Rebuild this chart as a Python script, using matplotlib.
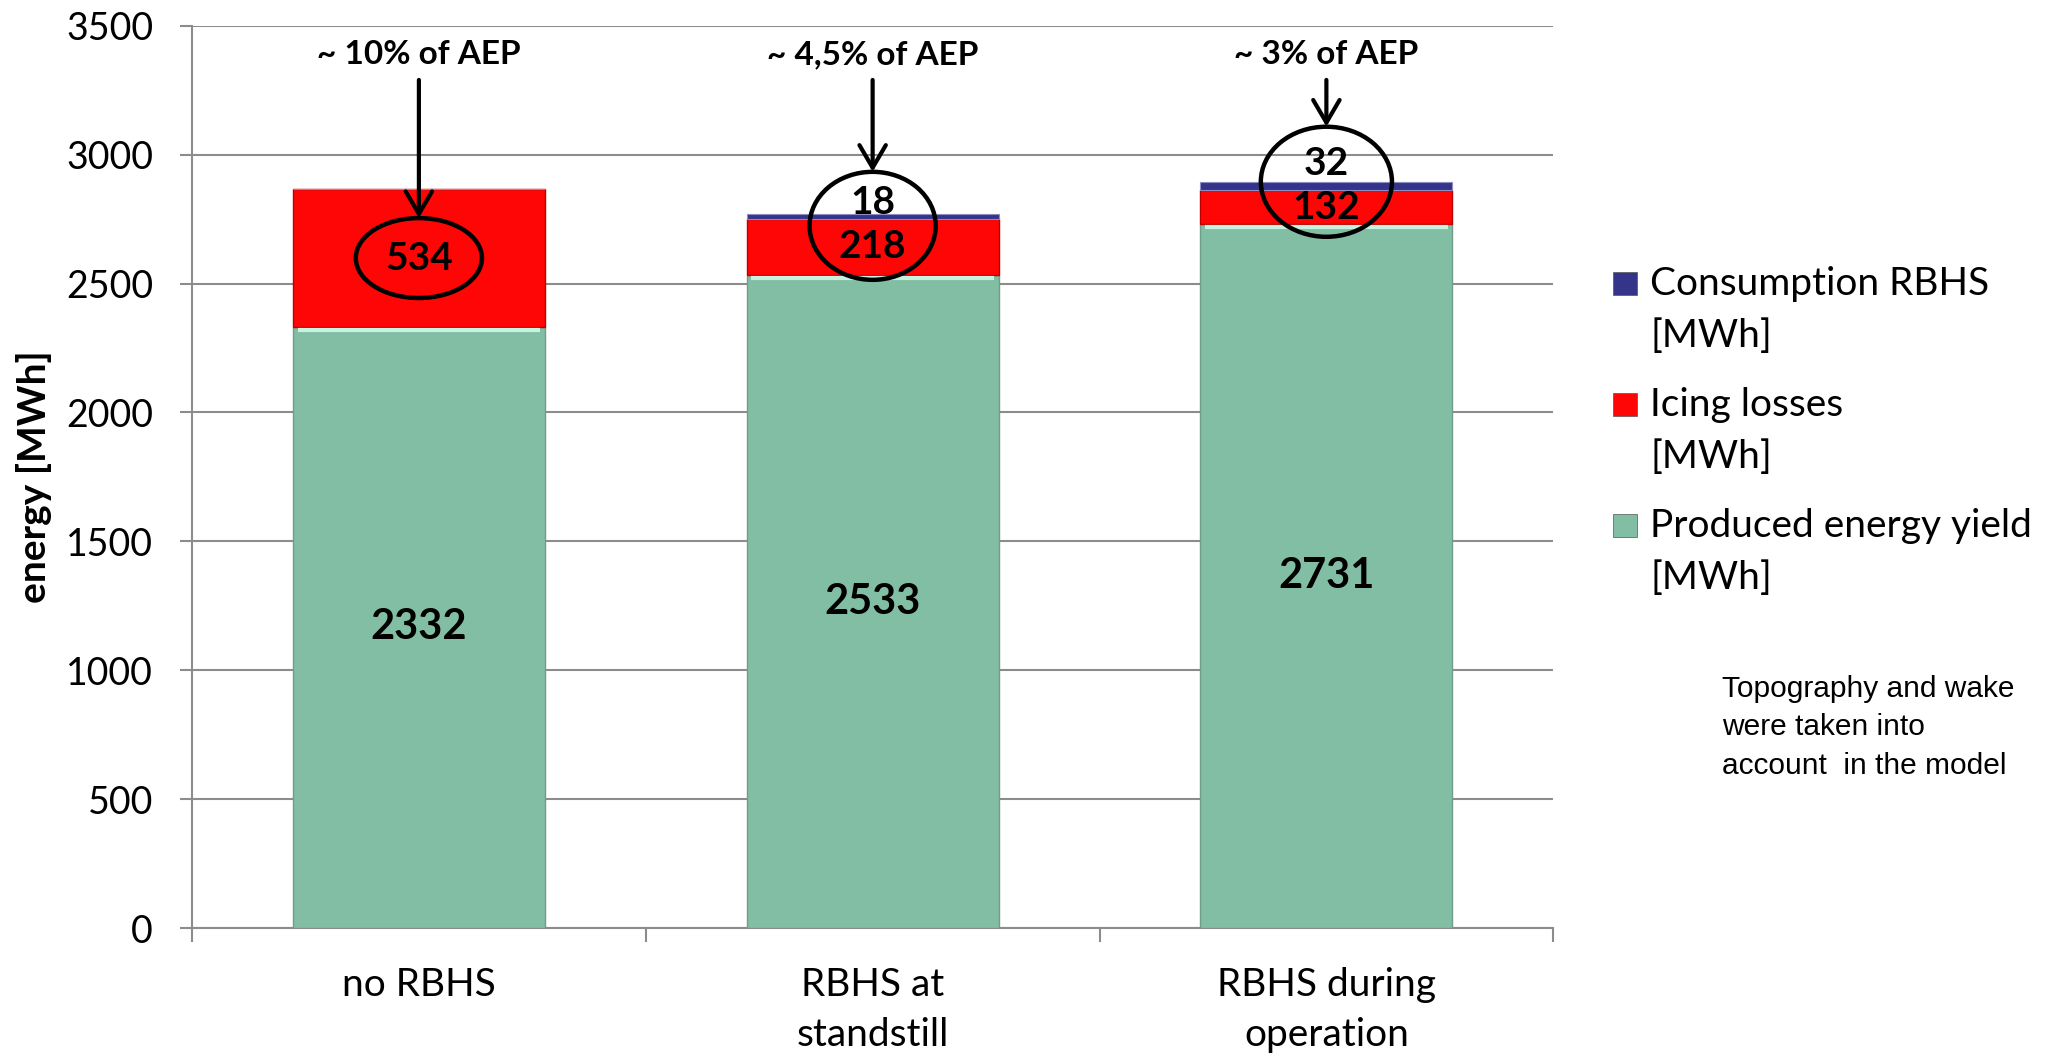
import matplotlib.pyplot as plt
import numpy as np
from matplotlib.patches import Ellipse, Rectangle

# scenario data, MWh
categories = ["no RBHS", "RBHS at\nstandstill", "RBHS during\noperation"]
produced = [2332, 2533, 2731]
icing = [534, 218, 132]
consumption = [0, 18, 32]
aep_share = ["~ 10% of AEP", "~ 4,5% of AEP", "~ 3% of AEP"]

series_names = ["Consumption RBHS\n[MWh]", "Icing losses\n[MWh]", "Produced energy yield\n[MWh]"]
GREEN = "#82BEA4"
RED = "#FE0606"
BLUE = "#34348A"
GRID = "#8C8C8C"

plt.rcParams["font.family"] = ["Lato", "DejaVu Sans"]

fig = plt.figure(figsize=(20.47, 10.57), dpi=100)
ax = fig.add_axes([0.0938, 0.122, 0.665, 0.8536])

x = np.arange(len(categories))
width = 0.555
produced = np.array(produced)
icing = np.array(icing)
consumption = np.array(consumption)
tops = produced + icing + consumption

ax.bar(x, produced, width, color=GREEN, edgecolor="#6E9E89", linewidth=1, zorder=3)
ax.bar(x, icing, width, bottom=produced, color=RED, edgecolor="#C00000", linewidth=1, zorder=3)
ax.bar(x, consumption, width, bottom=produced + icing, color=BLUE, edgecolor="#8C8CC0",
       linewidth=0.8, zorder=3)
# light bevel along the top of the green segments
ax.hlines(produced - 12, x - width / 2 + 0.01, x + width / 2 - 0.01, color="#C6F2DE",
          linewidth=3, zorder=4)

ax.set_xlim(-0.5, 2.5)
ax.set_ylim(0, 3500)
ax.set_yticks(np.arange(0, 3501, 500))
ax.yaxis.grid(True, color=GRID, linewidth=1.5, zorder=0)
ax.set_axisbelow(True)
for side in ("top", "right"):
    ax.spines[side].set_visible(False)
for side in ("left", "bottom"):
    ax.spines[side].set_color(GRID)
    ax.spines[side].set_linewidth(1.5)

ax.tick_params(axis="y", labelsize=27, length=9, width=1.5, color=GRID, pad=19)
ax.set_xticks(x)
ax.set_xticklabels(categories, fontsize=28, linespacing=1.47)
ax.set_xticks([-0.5, 0.5, 1.5, 2.5], minor=True)
ax.tick_params(axis="x", which="major", length=0, pad=28)
ax.tick_params(axis="x", which="minor", length=10, width=1.5, color=GRID)
ax.set_ylabel("energy [MWh]", fontsize=28, fontweight="bold", labelpad=10)

# segment values
label_lift = [0, 0, 5]
for xi, p, ic, c, top, lift in zip(x, produced, icing, consumption, tops, label_lift):
    ax.text(xi, p / 2, f"{p}", ha="center", va="center", fontsize=30, fontweight="bold", zorder=5)
    ax.text(xi, p + ic / 2, f"{ic}", ha="center", va="center", fontsize=28, fontweight="bold", zorder=5)
    if c:
        ax.annotate(f"{c}", xy=(xi, top), xytext=(0, lift), textcoords="offset points",
                    ha="center", va="baseline", fontsize=28, fontweight="bold", zorder=5)

# circled losses with arrows and share of annual energy production
ell_centers = [produced[0] + icing[0] / 2, tops[1] - 45, tops[2]]
ell_widths = [0.278, 0.278, 0.289]
ell_heights = [310, 419, 427]
for xi, yc, w, h, share in zip(x, ell_centers, ell_widths, ell_heights, aep_share):
    ax.add_patch(Ellipse((xi, yc), w, h, fill=False, edgecolor="black", linewidth=3.2, zorder=6))
    ax.annotate("", xy=(xi, yc + h / 2), xytext=(xi, 3290),
                arrowprops=dict(arrowstyle="->,head_length=0.65,head_width=0.38", mutation_scale=25,
                                color="black", linewidth=3, shrinkA=0, shrinkB=0), zorder=6)
    ax.text(xi, 3350, share, ha="center", va="baseline", fontsize=24, fontweight="bold", zorder=6)

# legend drawn in figure coordinates, square aligned with the first text line
legend_colors = [BLUE, RED, GREEN]
for i, (name, col) in enumerate(zip(series_names, legend_colors)):
    base = 295 + i * 121
    fig.add_artist(Rectangle((1613 / 2047, 1 - base / 1057), 24 / 2047, 23 / 1057,
                             facecolor=col, edgecolor="#555555", linewidth=0.5,
                             transform=fig.transFigure))
    fig.text(1650 / 2047, 1 - (base - 29) / 1057, name, fontsize=28, va="top", ha="left",
             linespacing=1.55)

fig.text(1722 / 2047, 1 - 675 / 1057, "Topography and wake\nwere taken into\naccount  in the model",
         fontsize=21.5, family="Liberation Sans", va="top", ha="left", linespacing=1.47)

fig.savefig("out.png", dpi=100)
